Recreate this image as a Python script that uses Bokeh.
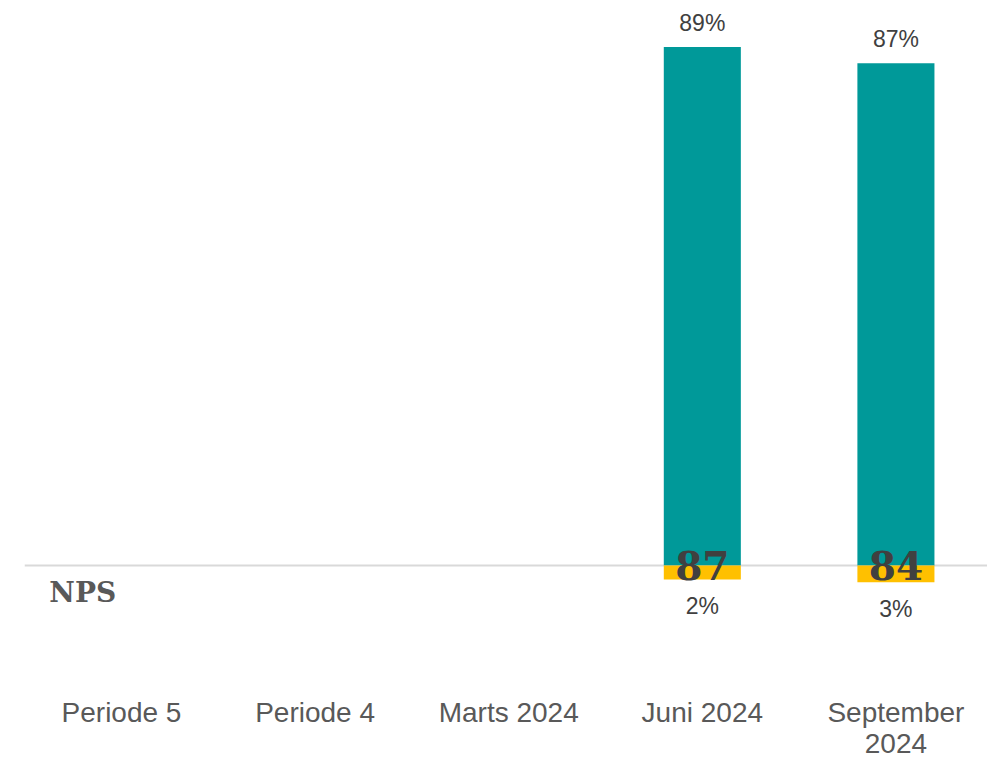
import math
from bokeh.plotting import figure
from bokeh.models import ColumnDataSource, Span, FixedTicker, Range1d, Label
from bokeh.core.properties import value
from bokeh.embed import file_html
from bokeh.resources import INLINE

# ---- data ----
categories = ["Periode 5", "Periode 4", "Marts 2024", "Juni 2024", "September\n2024"]
promoters = [None, None, None, 89.4, 86.6]      # % (teal, above baseline)
detractors = [None, None, None, 2.4, 2.9]       # % (yellow, below baseline)
promoter_labels = ["", "", "", "89%", "87%"]
detractor_labels = ["", "", "", "2%", "3%"]
nps_values = [None, None, None, 87, 84]

TEAL = "#009999"
YELLOW = "#FFC000"
DARK = "#404040"
AXIS_TEXT = "#595959"

idx = [i for i, v in enumerate(promoters) if v is not None]
src = ColumnDataSource(dict(
    x=idx,
    prom=[promoters[i] for i in idx],
    det_neg=[-detractors[i] for i in idx],
    zero=[0 for _ in idx],
    prom_lbl=[promoter_labels[i] for i in idx],
    det_lbl=[detractor_labels[i] for i in idx],
    nps=[str(nps_values[i]) for i in idx],
))

p = figure(width=987, height=761, output_backend="svg", toolbar_location=None,
           x_range=Range1d(-0.501, 4.473), y_range=Range1d(-21.03, 96.03),
           min_border_left=24, min_border_right=0, min_border_top=8,
           min_border_bottom=74)
p.outline_line_color = None
p.xgrid.visible = False
p.ygrid.visible = False
p.yaxis.visible = False
p.background_fill_color = "white"
p.border_fill_color = "white"

baseline = Span(location=0, dimension="width", line_color="#D9D9D9",
                line_width=2, level="underlay")
p.add_layout(baseline)

p.vbar(x="x", top="prom", bottom="zero", width=0.398, source=src,
       fill_color=TEAL, line_color=None)
p.vbar(x="x", top="zero", bottom="det_neg", width=0.398, source=src,
       fill_color=YELLOW, line_color=None)

p.text(x="x", y="prom", text="prom_lbl", source=src, y_offset=-24,
       text_font=value("Liberation Sans"), text_font_size="23px",
       text_color=DARK, text_align="center", text_baseline="middle")
p.text(x="x", y="det_neg", text="det_lbl", source=src, y_offset=27,
       text_font=value("Liberation Sans"), text_font_size="23px",
       text_color=DARK, text_align="center", text_baseline="middle")
p.text(x="x", y="zero", text="nps", source=src,
       text_font=value("DejaVu Serif"), text_font_style="bold",
       text_font_size="39px", text_color=DARK,
       text_align="center", text_baseline="middle")

nps_label = Label(x=-0.2, y=-4.65, text="NPS", text_font="DejaVu Serif",
                  text_font_style="bold", text_font_size="28px",
                  text_color="#595959", text_align="center",
                  text_baseline="middle")
p.add_layout(nps_label)

p.xaxis.ticker = FixedTicker(ticks=list(range(len(categories))))
p.xaxis.major_label_overrides = {i: c for i, c in enumerate(categories)}
p.xaxis.axis_line_color = None
p.xaxis.major_tick_line_color = None
p.xaxis.minor_tick_line_color = None
p.xaxis.major_tick_in = 0
p.xaxis.major_tick_out = 0
p.xaxis.major_label_standoff = 9
p.xaxis.major_label_text_font = "Liberation Sans"
p.xaxis.major_label_text_font_size = "28px"
p.xaxis.major_label_text_color = AXIS_TEXT
p.xaxis.major_label_text_line_height = 1.0

open("out.html", "w").write(file_html(p, INLINE))
